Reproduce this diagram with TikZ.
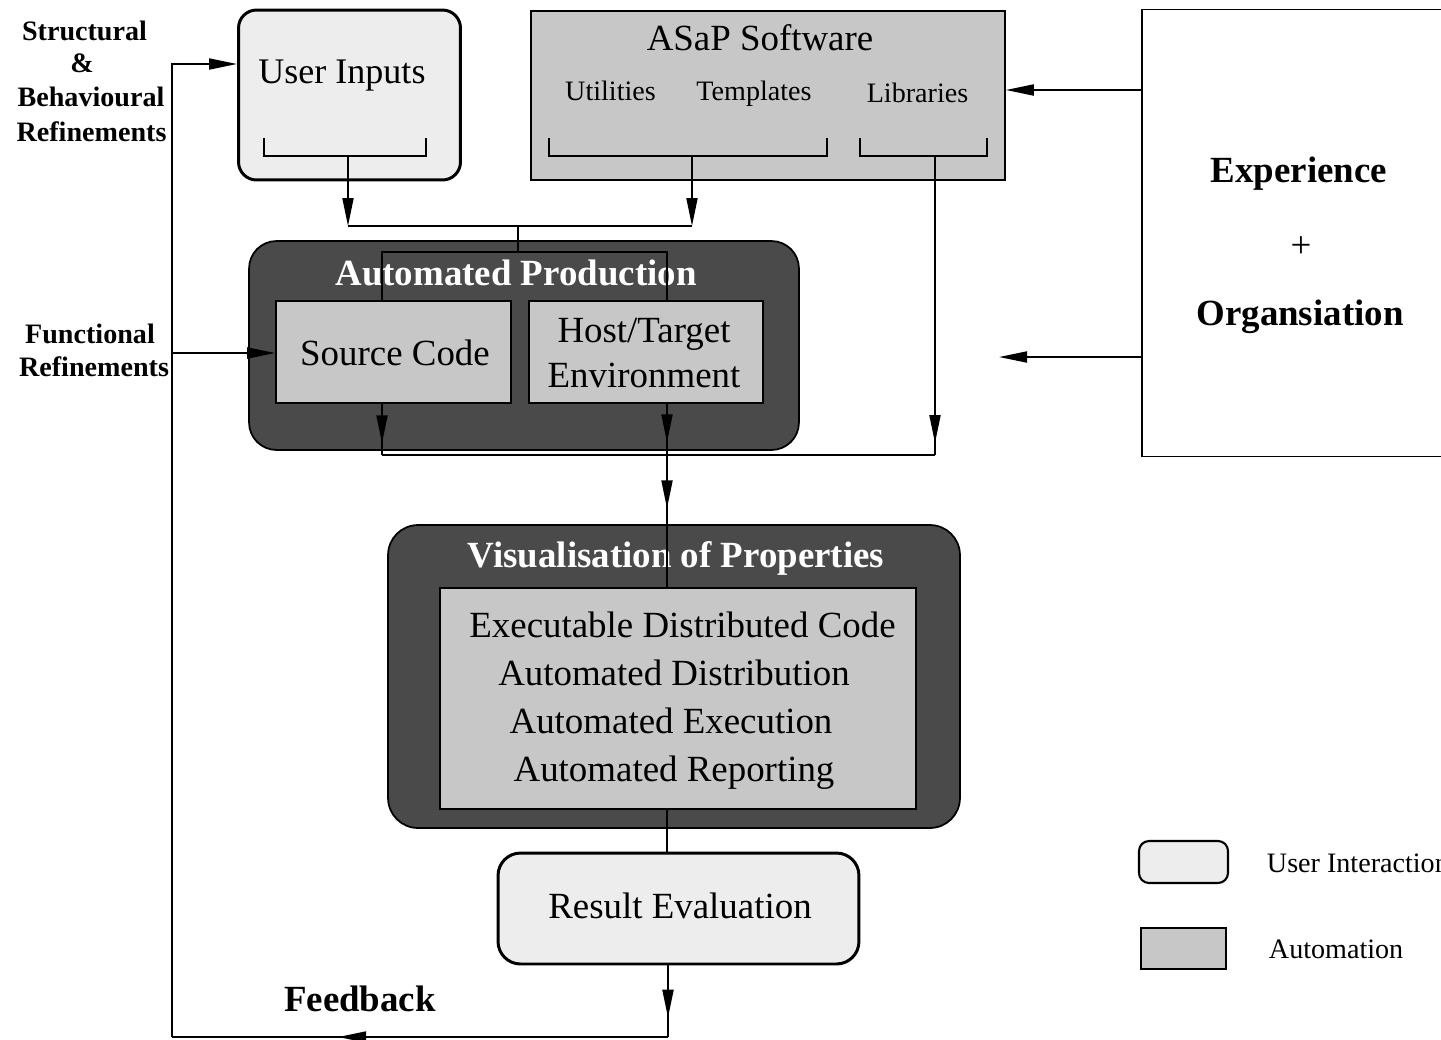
\documentclass[tikz,border=0pt]{standalone}
\usepackage{fontspec}
\setmainfont{Liberation Serif}
\usetikzlibrary{arrows.meta,positioning,decorations.markings,calc}

\begin{document}
\begin{tikzpicture}[
  x=0.02cm, y=-0.02cm, line width=1.1pt,
  >={Triangle[length=5.6mm,width=2.2mm]},
  uibox/.style={rectangle, rounded corners=0.36cm, draw=black, line width=1.7pt, fill=black!7},
  autobox/.style={rectangle, draw=black, line width=1pt, fill=black!22},
  darkbox/.style={rectangle, rounded corners=0.55cm, draw=black, line width=1pt, fill=black!71},
  bigtxt/.style={font=\fontsize{21}{25}\selectfont, anchor=base, inner sep=0pt},
  smalltxt/.style={font=\fontsize{16}{19}\selectfont, anchor=base, inner sep=0pt},
  ttl/.style={bigtxt, font=\fontsize{21}{25}\selectfont\bfseries, text=white},
  boldtxt/.style={bigtxt, font=\fontsize{21}{25}\selectfont\bfseries},
  lbl/.style={smalltxt, font=\fontsize{16}{19}\selectfont\bfseries},
  arr/.style={->, draw=black},
  midarr/.style={postaction={decorate, decoration={markings, mark=at position #1 with {\arrow{>}}}}},
]
\useasboundingbox (0,0) rectangle (1441,1039);

% ---------- boxes ----------
\node[uibox, minimum width=4.44cm, minimum height=3.4cm] (ui) at (349.5,95) {};
\node[autobox, minimum width=9.48cm, minimum height=3.38cm] (asap) at (768,95.5) {};
\node[rectangle, draw=black, line width=1pt, fill=white, minimum width=6.4cm, minimum height=8.94cm] (exp) at (1302,233) {};
\node[darkbox, minimum width=11cm, minimum height=4.18cm] (prod) at (524,345.5) {};
\node[autobox, minimum width=4.7cm, minimum height=2.04cm] (src) at (393.5,352) {};
\node[autobox, minimum width=4.68cm, minimum height=2.04cm] (host) at (646,352) {};
\node[darkbox, rounded corners=0.6cm, minimum width=11.44cm, minimum height=6.06cm] (vis) at (674,676.5) {};
\node[autobox, minimum width=9.52cm, minimum height=4.42cm] (props) at (678,698.5) {};
\node[uibox, rounded corners=0.45cm, minimum width=7.22cm, minimum height=2.22cm] (res) at (678.5,908.5) {};

% ---------- texts ----------
\node[bigtxt, font=\fontsize{20.5}{24}\selectfont] (uiT) at (342,83) {User Inputs};
\node[bigtxt] (asapT) at (760,50) {ASaP Software};
\node[smalltxt] (utl) at (610.5,100) {Utilities};
\node[smalltxt] (tpl) at (754,100) {Templates};
\node[smalltxt] (lib) at (917.5,102) {Libraries};
\node[boldtxt] (expT) at (1299,182) {Experience};
\node[bigtxt] (plus) at (1301,257) {+};
\node[boldtxt] (orgT) at (1300,325) {Organsiation};
\node[ttl] (prodT) at (516,285) {Automated Production};
\node[bigtxt] (srcT) at (395,365) {Source Code};
\node[bigtxt] (hostT) at (644,342) {Host/Target};
\node[bigtxt] (envT) at (644,387) {Environment};
\node[ttl] (visT) at (676,567) {Visualisation of Properties};
\foreach \x/\y/\t [count=\i] in {682.5/637/Executable Distributed Code, 674/685/Automated Distribution,
                                  671/733/Automated Execution, 674/781/Automated Reporting}
  \node[bigtxt] (prop\i) at (\x,\y) {\t};
\node[bigtxt] (resT) at (680,918) {Result Evaluation};
\node[boldtxt] (fbT) at (360,1011) {Feedback};
\foreach \x/\y/\t [count=\i] in {84.5/40.7/Structural, 82/72.7/\&, 91/106/Behavioural, 91.5/141/Refinements}
  \node[lbl] (sb\i) at (\x,\y) {\t};
\node[lbl] (fn1) at (90,343) {Functional};
\node[lbl] (fn2) at (94,376) {Refinements};

% ---------- legend ----------
\node[uibox, line width=1.2pt, rounded corners=0.2cm, minimum width=1.78cm, minimum height=0.84cm] (leg1) at (1183.5,862) {};
\node[autobox, minimum width=1.7cm, minimum height=0.82cm] (leg2) at (1183.5,948.5) {};
\node[smalltxt, anchor=base west] (leg1T) at (1266,872) {User Interaction};
\node[smalltxt, anchor=base west] (leg2T) at (1268,958) {Automation};

% ---------- brackets ----------
\draw (264,138) |- (426,156) -- (426,138);
\draw (549,138) |- (827,156) -- (827,138);
\draw (860,138) |- (987,156) -- (987,138);

% ---------- coordinates ----------
\coordinate (uiS) at (348,156);
\coordinate (asapS) at (692,156);
\coordinate (libS) at (935,156);
\coordinate (jUi) at (348,226);
\coordinate (jAsap) at (692,226);
\coordinate (jMid) at (518,226);
\coordinate (jTop) at (518,252);
\coordinate (srcIn) at (382,252);
\coordinate (hostIn) at (667,252);
\coordinate (botL) at (382,455);
\coordinate (botR) at (935,455);
\coordinate (expA) at (1142,90);
\coordinate (expOut) at (999,357);
\coordinate (fbR) at (668,1037);
\coordinate (fbL) at (172,1037);
\coordinate (fbT) at (172,64);
\coordinate (fbM) at (172,353);

% ---------- arrows ----------
\draw[arr] (uiS) -- (jUi);
\draw[arr] (asapS) -- (jAsap);
\draw (jUi) -- (jAsap);
\draw (jMid) -- (jTop);
\draw (src.north -| srcIn) -- (srcIn) -- (hostIn) -- (host.north -| hostIn);
\draw[midarr=0.77] (src.south -| botL) -- (botL);
\draw (botL) -- (botR);
\draw[midarr=0.96] (libS) -- (botR);
\draw[midarr=0.21, midarr=0.57] (host.south -| hostIn) -- (props.north -| hostIn);
\draw[arr] (exp.west |- expA) -- (asap.east |- expA);
\draw[arr] (exp.west |- expOut) -- (expOut);
\draw (props.south -| hostIn) -- (res.north -| hostIn);
\draw[midarr=0.73] (res.south -| fbR) -- (fbR);
\draw[midarr=0.665] (fbR) -- (fbL);
\draw[arr] (fbL) -- (fbT) -- (ui.west |- fbT);
\draw[arr] (fbM) -- (src.west |- fbM);
\end{tikzpicture}
\end{document}
